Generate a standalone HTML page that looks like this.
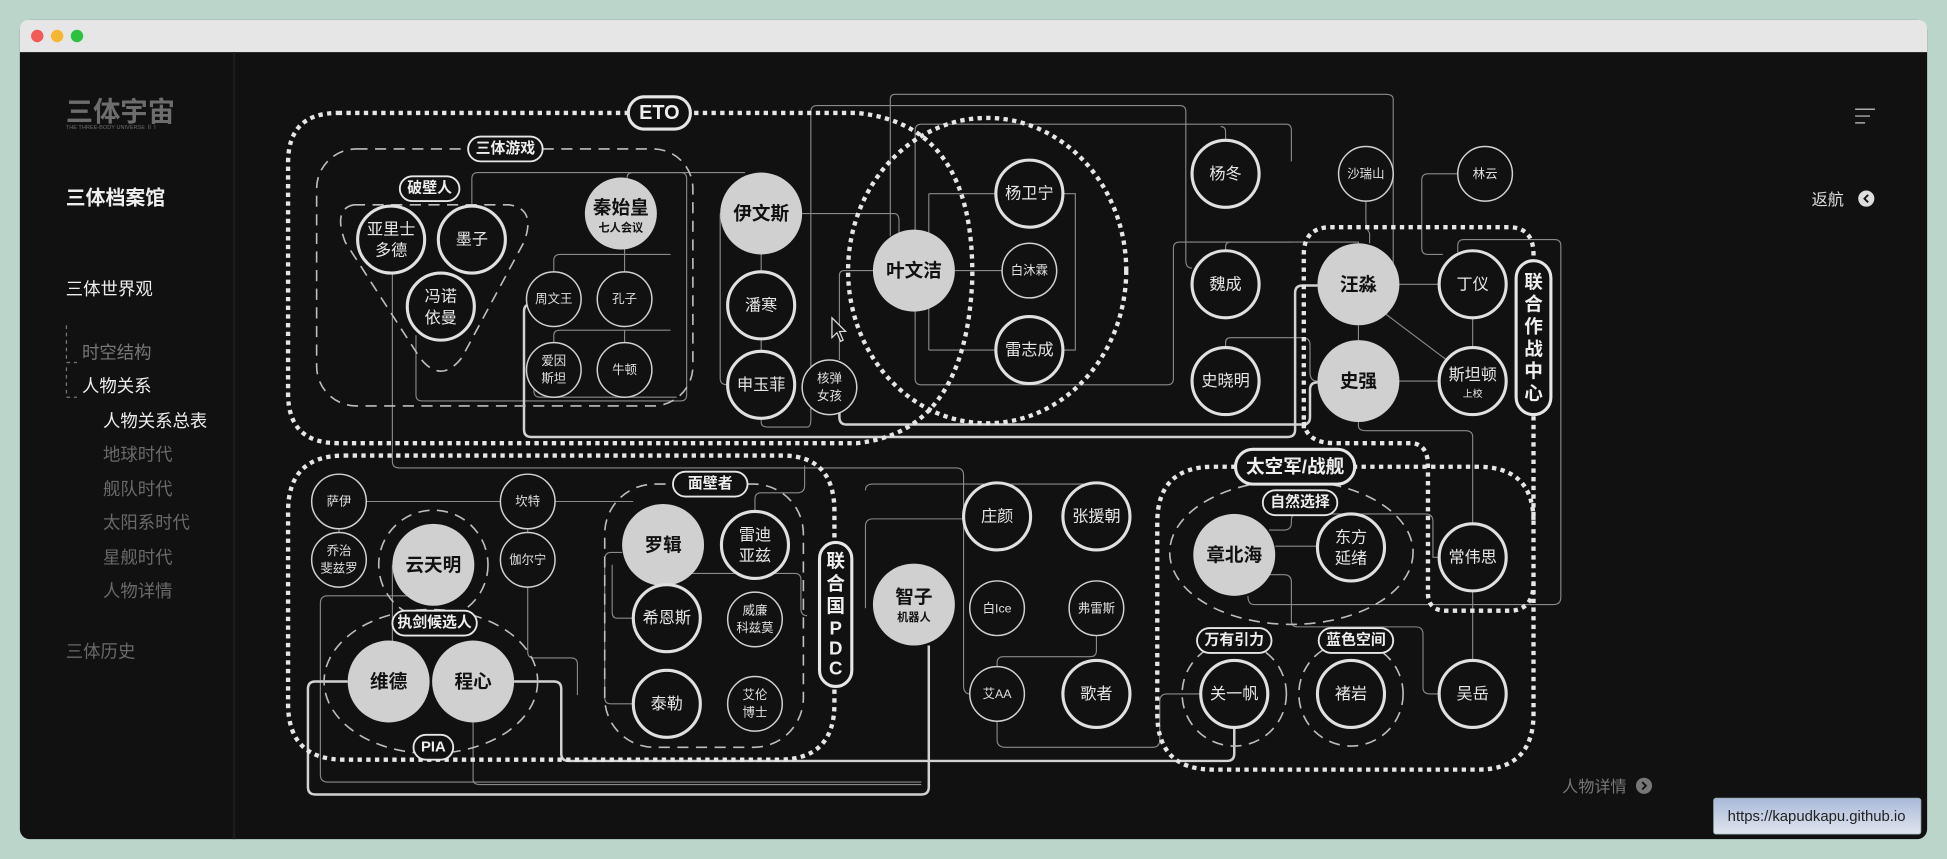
<!DOCTYPE html>
<html><head><meta charset="utf-8"><style>
html,body{margin:0;padding:0;background:#b9d3c9;width:1947px;height:859px;overflow:hidden}
svg{display:block}
text{font-family:"Liberation Sans","Noto Sans CJK SC",sans-serif;text-anchor:middle;dominant-baseline:central}
</style></head><body>
<svg width="1947" height="859" viewBox="0 0 1568 692" preserveAspectRatio="none" xmlns="http://www.w3.org/2000/svg">
<rect x="0" y="0" width="1568" height="692" fill="#bcd5cb"/>
<rect x="16" y="16" width="1536" height="660" rx="8" fill="#111"/>
<path d="M16 42 V24 Q16 16 24 16 H1544 Q1552 16 1552 24 V42 Z" fill="#e6e6e6"/>
<circle cx="30" cy="29" r="5" fill="#f25a55"/><circle cx="46" cy="29" r="5" fill="#f5b731"/><circle cx="62" cy="29" r="5" fill="#2cc13f"/>
<line x1="188.5" y1="42" x2="188.5" y2="676" stroke="#1c1c1c" stroke-width="2"/>
<!-- sidebar -->
<text x="53" y="90" font-size="22" font-weight="bold" fill="#6d6d6d" style="text-anchor:start">三体宇宙</text>
<text x="53" y="103" font-size="4.5" fill="#6d6d6d" style="text-anchor:start">THE THREE-BODY UNIVERSE ⅡⅠ</text>
<text x="53" y="160" font-size="16" font-weight="bold" fill="#eee" style="text-anchor:start">三体档案馆</text>
<text x="53" y="233" font-size="14" fill="#eee" style="text-anchor:start">三体世界观</text>
<path d="M53.5 262 V292 H62 M53.5 296 V320 H62" stroke="#777" stroke-dasharray="3 3" fill="none"/>
<text x="66" y="284" font-size="14" fill="#777" style="text-anchor:start">时空结构</text>
<text x="66" y="311" font-size="14" fill="#eee" style="text-anchor:start">人物关系</text>
<text x="83" y="339" font-size="14" fill="#eee" style="text-anchor:start">人物关系总表</text>
<g font-size="14" fill="#6a6a6a" style="text-anchor:start">
<text x="83" y="366" style="text-anchor:start">地球时代</text>
<text x="83" y="394" style="text-anchor:start">舰队时代</text>
<text x="83" y="421" style="text-anchor:start">太阳系时代</text>
<text x="83" y="449" style="text-anchor:start">星舰时代</text>
<text x="83" y="476" style="text-anchor:start">人物详情</text>
<text x="53" y="525" style="text-anchor:start">三体历史</text>
</g>
<path d="M1494 88 H1510 M1494 93.5 H1506 M1494 99 H1502" stroke="#aaa" stroke-width="1.2"/>
<text x="1472" y="161" font-size="13" fill="#ddd">返航</text>
<circle cx="1503" cy="160" r="6.5" fill="#ddd"/><path d="M1504.5 157 L1501.5 160 L1504.5 163" stroke="#111" stroke-width="1.5" fill="none"/>
<text x="1284" y="634" font-size="13" fill="#777">人物详情</text>
<circle cx="1324" cy="633" r="6.5" fill="#777"/><path d="M1322.5 630 L1325.5 633 L1322.5 636" stroke="#111" stroke-width="1.5" fill="none"/>

<!-- thin connectors -->
<g fill="none" stroke="#8a8a8a" stroke-width="0.9">
<path d="M446 219 V210 Q446 205 451 205 H540 M503 219 V200"/>
<path d="M446 276 V270 Q446 266 451 266 H540 M503 276 V266"/>
<path d="M316 220 V372 Q316 377 322 377 H770 Q776 377 776 383 V552 Q776 559 781 559"/>
<path d="M380 166 V144 Q380 139 385 139 H548 Q553 139 553 144 V318 Q553 323 548 323 H340 Q335 323 335 318 V270"/>
<path d="M430 290 V315 Q430 320 435 320 H545"/>
<path d="M505 150 V143 Q505 139 510 139 H600"/>
<path d="M613 205 V219 M613 273 V283"/>
<path d="M580 172 V305 Q580 310 586 310"/>
<path d="M646 172 H720 Q724 172 724 178 V190"/>
<path d="M613 337 V340 Q613 344 618 344 H650 Q653 344 653 338 V90 Q653 85 658 85 H950 Q955 85 955 90 V210 Q955 216 960 216"/>
<path d="M717 190 V80 Q717 76 721 76 H1116 Q1122 76 1122 80 V225 Q1122 229 1127 229"/>
<path d="M737 250 V305 Q737 310 742 310 H940 Q945 310 945 305 V200 Q945 195 950 195 H1040"/>
<path d="M737 190 V105 Q737 100 742 100 H1036 Q1040 100 1040 105 V130"/>
<path d="M748 156 H802 M748 282 H802 M748 156 V282 M769 218 H808"/>
<path d="M856 156 H866 V282 H856"/>
<path d="M703 218 H680 Q676 218 676 222 V290"/>
<path d="M987 113 V106 Q987 102 983 102"/>
<path d="M1100 162 V178 Q1100 183 1103 188 V196"/>
<path d="M1174 140 H1150 Q1145 140 1145 145 V200 Q1145 205 1150 205 H1162"/>
<path d="M987 202 V199 Q987 195 991 195 H1094 V196"/>
<path d="M1127 229 H1159 M1186 256 V280 M1094 262 V274 M1127 307 H1159 M1116 253 L1165 290"/>
<path d="M987 280 V276 Q987 272 991 272 H1049 Q1055 272 1055 278 V300 Q1055 307 1061 307"/>
<path d="M1174 203 V198 Q1174 193 1179 193 H1252 Q1257 193 1257 198 V481 Q1257 487 1251 487 H1010 Q1005 487 1005 480"/>
<path d="M1094 340 V343 Q1094 347 1100 347 H1180 Q1186 347 1186 352 V422 M1186 476 V532"/>
<path d="M1027 440 H1061"/>
<path d="M1022 427 H1034 Q1040 427 1040 421 V419 Q1040 414 1045 414 H1148 Q1154 414 1154 420 V449 H1159"/>
<path d="M1022 463 H1034 Q1040 463 1040 469 V500 Q1040 505 1045 505 H1140 Q1146 505 1146 511 V554 Q1146 559 1152 559 H1159"/>
<path d="M803 581 V596 Q803 602 810 602 H928 Q934 602 934 596 V565 Q934 559 940 559 H967"/>
<path d="M883 512 V524 Q883 529 878 529 H808 Q803 529 803 534 V537"/>
<path d="M697 490 V424 Q697 418 703 418 H776"/>
<path d="M697 395 Q697 390 703 390 H878 Q883 390 883 395"/>
<path d="M295 404 H403 M447 404 H510 M273 426 V429 M425 426 V429"/>
<path d="M316 455 V522"/>
<path d="M330 480 H264 Q258 480 258 486 V624 Q258 630 264 630 H742"/>
<path d="M425 473 V525 Q425 530 430 530 H460 Q465 530 465 535 V560"/>
<path d="M501 445 H492 Q487 445 487 451 V562 Q487 567 492 567 H510"/>
<path d="M510 498 H497 Q493 498 493 493 V455"/>
<path d="M537 471 V466 Q537 462 542 462 H640 Q645 462 645 467 V490 Q645 496 650 496"/>
<path d="M608 412 V402 Q608 397 613 397 H642 Q648 397 648 391 V375"/>
<path d="M381 580 V628 Q381 632 386 632 H742"/>
</g>

<!-- thick light connectors -->
<g fill="none" stroke="#d2d2d2" stroke-width="2">
<path d="M430 245 H428 Q422 245 422 251 V346 Q422 352 428 352 H1037 Q1043 352 1043 346 V236 Q1043 230 1049 230 H1061"/>
<path d="M676 327 V336 Q676 342 682 342 H1049 Q1055 342 1055 336 V314 Q1055 308 1061 308"/>
<path d="M280 549 H254 Q248 549 248 555 V634 Q248 640 254 640 H742 Q748 640 748 634 V520"/>
<path d="M414 549 H446 Q452 549 452 555 V607 Q452 613 458 613 H988 Q994 613 994 607 V586"/>
</g>

<!-- group outlines: dotted thick -->
<g fill="none" stroke="#e6e6e6" stroke-width="3.5" stroke-dasharray="3.5 3.5">
<path d="M272 91 H690 Q785 100 783 225 Q778 348 690 357 H272 Q232 357 232 317 V131 Q232 91 272 91"/>
<ellipse cx="795" cy="218" rx="112" ry="123"/>
<path d="M277 367 H630 Q672 367 672 412 V567 Q672 612 627 612 H277 Q232 612 232 567 V412 Q232 367 277 367"/>
<path d="M1050 345 V205 Q1050 183 1072 183 H1215 Q1235 183 1235 205 V575 Q1235 620 1190 620 H977 Q932 620 932 575 V421 Q932 376 977 376 H1190 Q1235 376 1235 420"/>
<path d="M1050 340 Q1052 357 1075 357 H1138 Q1150 359 1150 375 V478 Q1150 492 1165 492 H1218 Q1235 490 1235 470"/>
</g>
<!-- dashed groups -->
<g fill="none" stroke="#bdbdbd" stroke-width="1.3" stroke-dasharray="9 6">
<rect x="255" y="120" width="303" height="207" rx="32"/>
<path d="M285 165 H410 Q432 168 422 195 L372 288 Q355 310 338 288 L278 195 Q268 168 285 165 Z"/>
<rect x="487" y="390" width="160" height="212" rx="40"/>
<circle cx="349" cy="455" r="44"/>
<ellipse cx="347" cy="549" rx="86" ry="58"/>
<ellipse cx="1040" cy="445" rx="98" ry="58"/>
<circle cx="994" cy="559" r="42"/>
<circle cx="1088" cy="559" r="42"/>
</g>

<!-- labels pills -->
<g stroke="#e6e6e6" fill="#111">
<rect x="506" y="78" width="50" height="26" rx="13" stroke-width="2.5"/>
<rect x="377" y="110" width="60" height="20" rx="10" stroke-width="1.5"/>
<rect x="322" y="142" width="48" height="20" rx="10" stroke-width="1.5"/>
<rect x="542" y="380" width="60" height="20" rx="10" stroke-width="1.5"/>
<rect x="316" y="492" width="68" height="20" rx="10" stroke-width="1.5"/>
<rect x="333" y="592" width="32" height="20" rx="10" stroke-width="1.5"/>
<rect x="660" y="437" width="26" height="116" rx="13" stroke-width="2.5"/>
<rect x="1221" y="210" width="28" height="124" rx="14" stroke-width="2.5"/>
<rect x="995" y="362" width="96" height="28" rx="14" stroke-width="2.5"/>
<rect x="1017" y="395" width="60" height="20" rx="10" stroke-width="1.5"/>
<rect x="964" y="506" width="60" height="20" rx="10" stroke-width="1.5"/>
<rect x="1062" y="506" width="60" height="20" rx="10" stroke-width="1.5"/>
</g>
<g fill="#eee" font-weight="bold">
<text x="531" y="91" font-size="16">ETO</text>
<text x="407" y="120" font-size="12">三体游戏</text>
<text x="346" y="152" font-size="12">破壁人</text>
<text x="572" y="390" font-size="12">面壁者</text>
<text x="350" y="502" font-size="12">执剑候选人</text>
<text x="349" y="602" font-size="12">PIA</text>
<text x="1043" y="376" font-size="15">太空军/战舰</text>
<text x="1047" y="405" font-size="12">自然选择</text>
<text x="994" y="516" font-size="12">万有引力</text>
<text x="1092" y="516" font-size="12">蓝色空间</text>
<g font-size="15">
<text x="673" y="452">联</text><text x="673" y="470">合</text><text x="673" y="488">国</text><text x="673" y="506">P</text><text x="673" y="522">D</text><text x="673" y="538">C</text>
<text x="1235" y="227">联</text><text x="1235" y="245">合</text><text x="1235" y="263">作</text><text x="1235" y="281">战</text><text x="1235" y="299">中</text><text x="1235" y="317">心</text>
</g>
</g>

<!-- filled nodes -->
<g fill="#d0d0d0">
<circle cx="500" cy="172" r="29"/><circle cx="613" cy="172" r="33"/><circle cx="736" cy="218" r="33"/>
<circle cx="1094" cy="229" r="33"/><circle cx="1094" cy="307" r="33"/><circle cx="534" cy="439" r="33"/>
<circle cx="349" cy="455" r="33"/><circle cx="313" cy="549" r="33"/><circle cx="381" cy="549" r="33"/>
<circle cx="736" cy="487" r="33"/><circle cx="994" cy="447" r="33"/>
</g>
<g fill="#111" font-weight="bold" font-size="15">
<text x="500" y="167">秦始皇</text><text x="500" y="184" font-size="9">七人会议</text>
<text x="613" y="172">伊文斯</text><text x="736" y="218">叶文洁</text>
<text x="1094" y="229">汪淼</text><text x="1094" y="307">史强</text><text x="534" y="439">罗辑</text>
<text x="349" y="455">云天明</text><text x="313" y="549">维德</text><text x="381" y="549">程心</text>
<text x="736" y="481">智子</text><text x="736" y="498" font-size="9">机器人</text><text x="994" y="447">章北海</text>
</g>

<!-- outlined nodes -->
<g fill="#111" stroke="#e0e0e0" stroke-width="2.5">
<circle cx="315" cy="193" r="27"/><circle cx="380" cy="193" r="27"/><circle cx="355" cy="247" r="27"/>
<circle cx="613" cy="246" r="27"/><circle cx="613" cy="310" r="27"/>
<circle cx="829" cy="156" r="27"/><circle cx="829" cy="282" r="27"/>
<circle cx="987" cy="140" r="27"/><circle cx="987" cy="229" r="27"/><circle cx="987" cy="307" r="27"/>
<circle cx="1186" cy="229" r="27"/><circle cx="1186" cy="307" r="27"/>
<circle cx="608" cy="439" r="27"/><circle cx="537" cy="498" r="27"/><circle cx="537" cy="567" r="27"/>
<circle cx="803" cy="416" r="27"/><circle cx="883" cy="416" r="27"/><circle cx="883" cy="559" r="27"/>
<circle cx="1088" cy="441" r="27"/><circle cx="1186" cy="449" r="27"/>
<circle cx="994" cy="559" r="27"/><circle cx="1088" cy="559" r="27"/><circle cx="1186" cy="559" r="27"/>
</g>
<g fill="#e6e6e6" font-size="13">
<text x="315" y="185">亚里士</text><text x="315" y="202">多德</text>
<text x="380" y="193">墨子</text>
<text x="355" y="239">冯诺</text><text x="355" y="256">依曼</text>
<text x="613" y="246">潘寒</text><text x="613" y="310">申玉菲</text>
<text x="829" y="156">杨卫宁</text><text x="829" y="282">雷志成</text>
<text x="987" y="140">杨冬</text><text x="987" y="229">魏成</text><text x="987" y="307">史晓明</text>
<text x="1186" y="229">丁仪</text><text x="1186" y="302">斯坦顿</text><text x="1186" y="318" font-size="8">上校</text>
<text x="608" y="431">雷迪</text><text x="608" y="448">亚兹</text>
<text x="537" y="498">希恩斯</text><text x="537" y="567">泰勒</text>
<text x="803" y="416">庄颜</text><text x="883" y="416">张援朝</text><text x="883" y="559">歌者</text>
<text x="1088" y="433">东方</text><text x="1088" y="450">延绪</text>
<text x="1186" y="449">常伟思</text><text x="994" y="559">关一帆</text><text x="1088" y="559">褚岩</text><text x="1186" y="559">吴岳</text>
</g>

<!-- thin nodes -->
<g fill="#111" stroke="#d0d0d0" stroke-width="1.2">
<circle cx="446" cy="241" r="22"/><circle cx="503" cy="241" r="22"/><circle cx="446" cy="298" r="22"/><circle cx="503" cy="298" r="22"/>
<circle cx="668" cy="312" r="22"/><circle cx="829" cy="218" r="22"/><circle cx="1100" cy="140" r="22"/><circle cx="1196" cy="140" r="22"/>
<circle cx="273" cy="404" r="22"/><circle cx="273" cy="451" r="22"/><circle cx="425" cy="404" r="22"/><circle cx="425" cy="451" r="22"/>
<circle cx="608" cy="499" r="22"/><circle cx="608" cy="567" r="22"/>
<circle cx="803" cy="490" r="22"/><circle cx="883" cy="490" r="22"/><circle cx="803" cy="559" r="22"/>
</g>
<g fill="#e0e0e0" font-size="10">
<text x="446" y="241">周文王</text><text x="503" y="241">孔子</text>
<text x="446" y="291">爱因</text><text x="446" y="305">斯坦</text><text x="503" y="298">牛顿</text>
<text x="668" y="305">核弹</text><text x="668" y="319">女孩</text>
<text x="829" y="218">白沐霖</text><text x="1100" y="140">沙瑞山</text><text x="1196" y="140">林云</text>
<text x="273" y="404">萨伊</text><text x="273" y="444">乔治</text><text x="273" y="458">斐兹罗</text>
<text x="425" y="404">坎特</text><text x="425" y="451">伽尔宁</text>
<text x="608" y="492">威廉</text><text x="608" y="506">科兹莫</text>
<text x="608" y="560">艾伦</text><text x="608" y="574">博士</text>
<text x="803" y="490">白Ice</text><text x="883" y="490">弗雷斯</text><text x="803" y="559">艾AA</text>
</g>
<!-- cursor -->
<path d="M670 256 V272 L674 268 L677 275 L679 274 L676 267 L681 267 Z" fill="#111" stroke="#ddd" stroke-width="1"/>
<!-- url tip -->
<defs><linearGradient id="g" x1="0" y1="0" x2="0" y2="1"><stop offset="0" stop-color="#a9b9d9"/><stop offset="1" stop-color="#dfe6ee"/></linearGradient></defs>
<rect x="1380" y="643" width="167" height="29" rx="2" fill="url(#g)" stroke="#9aa" stroke-width="0.6"/>
<text x="1463" y="658" font-size="12" fill="#222">https://kapudkapu.github.io</text>
</svg>
</body></html>
